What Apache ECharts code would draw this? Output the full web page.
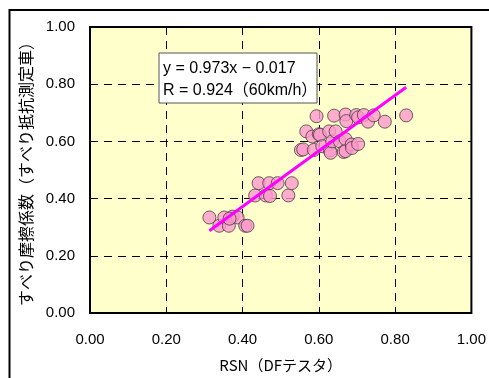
<!DOCTYPE html>
<html>
<head>
<meta charset="utf-8">
<script src="https://cdn.jsdelivr.net/npm/echarts@6/dist/echarts.min.js"></script>
<style>
  html, body { margin: 0; padding: 0; background: #ffffff; }
  #chart { width: 489px; height: 378px; }
</style>
</head>
<body>
<div id="chart"></div>
<script>
// RSN (DF tester) readings
var rsnValues = [
  0.313, 0.339, 0.352, 0.364, 0.374, 0.387, 0.407, 0.413, 0.366,
  0.433, 0.442, 0.461, 0.470, 0.472, 0.492, 0.520, 0.529,
  0.553, 0.559, 0.567, 0.583, 0.587, 0.600, 0.603, 0.609, 0.627, 0.629, 0.631, 0.635, 0.644, 0.655, 0.665, 0.670, 0.670, 0.686, 0.687, 0.703,
  0.594, 0.640, 0.670, 0.672, 0.698, 0.703, 0.718, 0.729, 0.744, 0.773, 0.829
];
// Skid resistance vehicle friction coefficients
var frictionValues = [
  0.334, 0.305, 0.334, 0.305, 0.337, 0.334, 0.305, 0.305, 0.330,
  0.411, 0.454, 0.411, 0.454, 0.409, 0.454, 0.411, 0.454,
  0.570, 0.572, 0.635, 0.617, 0.570, 0.625, 0.623, 0.583, 0.635, 0.568, 0.560, 0.600, 0.635, 0.600, 0.563, 0.608, 0.566, 0.589, 0.577, 0.591,
  0.688, 0.690, 0.694, 0.671, 0.692, 0.684, 0.692, 0.669, 0.691, 0.669, 0.691
];
// Regression line coefficients
var slope = 0.973;
var intercept = -0.017;
var corrR = 0.924;
var axisTicks = [0, 0.2, 0.4, 0.6, 0.8, 1.0];

var points = rsnValues.map(function (x, i) { return [x, frictionValues[i]]; });
var xMin = Math.min.apply(null, rsnValues);
var xMax = Math.max.apply(null, rsnValues);
var fitLine = [[xMin, slope * xMin + intercept], [xMax, slope * xMax + intercept]];

var chart = echarts.init(document.getElementById('chart'), null, { renderer: 'canvas' });
var numFont = 'Liberation Sans, Arial, sans-serif';
var jpFont = 'Noto Sans CJK JP, sans-serif';
var boxFont = '"Liberation Sans", "Noto Sans CJK JP", sans-serif';

chart.setOption({
  animation: false,
  backgroundColor: '#ffffff',
  grid: {
    left: 90, top: 27, width: 383, height: 291,
    show: true, backgroundColor: '#FFFFCC', borderColor: '#000000', borderWidth: 2
  },
  xAxis: {
    type: 'value', min: axisTicks[0], max: axisTicks[axisTicks.length - 1], interval: 0.2,
    name: 'RSN（DFテスタ）', nameLocation: 'middle', nameGap: 45,
    nameTextStyle: { fontFamily: jpFont, fontSize: 15, color: '#000' },
    axisLine: { show: false }, axisTick: { show: false },
    axisLabel: { margin: 19, fontFamily: numFont, fontSize: 15, color: '#000',
      formatter: function (v) { return v.toFixed(2); } },
    splitLine: { show: true, lineStyle: { color: '#000', type: [8, 6], width: 1 } }
  },
  yAxis: {
    type: 'value', min: axisTicks[0], max: axisTicks[axisTicks.length - 1], interval: 0.2,
    name: 'すべり摩擦係数（すべり抵抗測定車）', nameLocation: 'middle', nameGap: 56, nameRotate: 90,
    nameTextStyle: { fontFamily: jpFont, fontSize: 16, color: '#000' },
    axisLine: { show: false }, axisTick: { show: false },
    axisLabel: { margin: 15, fontFamily: numFont, fontSize: 15, color: '#000',
      formatter: function (v) { return v.toFixed(2); } },
    splitLine: { show: true, lineStyle: { color: '#000', type: [8, 6], width: 1 } }
  },
  graphic: [
    { type: 'rect', shape: { x: 9.5, y: 10, width: 490, height: 380 },
      style: { fill: 'none', stroke: '#000', lineWidth: 2 }, z: 0, silent: true },
    { type: 'rect', shape: { x: 159, y: 53, width: 158, height: 50 },
      style: { fill: '#ffffff', stroke: '#555', lineWidth: 1 }, z: 100 },
    { type: 'text', x: 163, y: 69, z: 101,
      style: { text: 'y = ' + slope.toFixed(3) + 'x − ' + Math.abs(intercept).toFixed(3),
        font: '16px ' + boxFont, fill: '#000', verticalAlign: 'middle' } },
    { type: 'text', x: 163, y: 91, z: 101,
      style: { text: 'R = ' + corrR.toFixed(3) + '（60km/h）',
        font: '16px ' + boxFont, fill: '#000', verticalAlign: 'middle' } }
  ],
  series: [
    {
      type: 'scatter', data: points, symbol: 'circle', symbolSize: 13,
      itemStyle: { color: '#FF99CC', borderColor: '#404040', borderWidth: 1 }, z: 2
    },
    {
      type: 'line', data: fitLine, symbol: 'none',
      lineStyle: { color: '#FF00FF', width: 3 }, z: 3
    }
  ]
});
</script>
</body>
</html>
